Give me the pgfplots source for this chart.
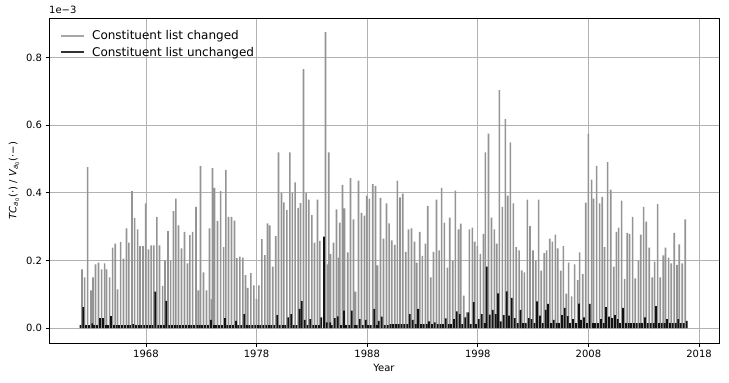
\documentclass[border=0pt]{standalone}
\usepackage{fontspec}
\setmainfont{DejaVu Sans}
\usepackage{pgfplots}
\usepackage{pgfplotstable}
\pgfplotsset{compat=1.18}
\definecolor{changed}{gray}{0.58}
\definecolor{unchanged}{gray}{0.07}
\pgfplotstableread{
x g b
1961.97 0 0.009
1962.22 0.174 0.062
1962.46 0.150 0.009
1962.73 0.476 0.009
1963.03 0.112 0.014
1963.21 0.150 0.009
1963.45 0.189 0.009
1963.72 0.194 0.030
1964.00 0.174 0.030
1964.27 0.192 0.009
1964.45 0.174 0.009
1964.72 0.150 0.036
1964.99 0.238 0.009
1965.23 0.250 0.009
1965.44 0.115 0.009
1965.71 0.255 0.009
1965.98 0.206 0.009
1966.25 0.295 0.009
1966.46 0.253 0.009
1966.74 0.405 0.012
1966.98 0.326 0.009
1967.25 0.292 0.009
1967.46 0.243 0.009
1967.73 0.243 0.009
1967.97 0.369 0.009
1968.24 0.233 0.009
1968.48 0.245 0.009
1968.72 0.245 0.108
1968.99 0.329 0.009
1969.23 0.245 0.009
1969.51 0.125 0.009
1969.72 0.200 0.081
1969.99 0.287 0.009
1970.23 0.200 0.009
1970.50 0.346 0.009
1970.71 0.383 0.009
1970.95 0.304 0.009
1971.22 0.236 0.009
1971.49 0.285 0.009
1971.76 0.192 0.009
1971.97 0.275 0.009
1972.22 0.285 0.009
1972.52 0.359 0.009
1972.73 0.112 0.009
1972.94 0.480 0.009
1973.21 0.165 0.009
1973.48 0.112 0.009
1973.75 0.295 0.025
1974.02 0.473 0.009
1974.20 0.415 0.009
1974.47 0.317 0.009
1974.75 0.405 0.009
1975.02 0.240 0.030
1975.23 0.468 0.009
1975.47 0.329 0.009
1975.74 0.329 0.009
1976.01 0.318 0.022
1976.22 0.207 0.009
1976.49 0.212 0.009
1976.76 0.209 0.042
1977.00 0.157 0.009
1977.21 0.119 0.009
1977.49 0.163 0.009
1977.76 0.127 0.009
1978.00 0.086 0.009
1978.21 0.127 0.009
1978.48 0.263 0.009
1978.75 0.216 0.009
1978.99 0.310 0.009
1979.20 0.304 0.009
1979.47 0.182 0.009
1979.74 0.272 0.039
1979.98 0.520 0.009
1980.26 0.400 0.009
1980.47 0.372 0.009
1980.74 0.349 0.032
1981.01 0.520 0.042
1981.24 0.400 0.009
1981.49 0.431 0.009
1981.76 0.356 0.057
1981.97 0.370 0.080
1982.24 0.766 0.025
1982.48 0.400 0.009
1982.72 0.380 0.027
1983.00 0.334 0.009
1983.24 0.253 0.009
1983.51 0.380 0.009
1983.72 0.258 0.032
1983.97 0 0.271
1984.23 0.875 0.017
1984.53 0.520 0.017
1984.68 0.219 0.009
1984.95 0.253 0.030
1985.22 0.351 0.035
1985.52 0.312 0.009
1985.77 0.424 0.052
1985.95 0.354 0.009
1986.25 0.224 0.009
1986.49 0.444 0.052
1986.76 0.322 0.009
1986.94 0.108 0.009
1987.21 0.436 0.027
1987.48 0.341 0.009
1987.75 0.333 0.025
1987.96 0.392 0.009
1988.20 0.383 0.009
1988.51 0.426 0.057
1988.75 0.421 0.009
1988.93 0.186 0.022
1989.20 0.385 0.034
1989.47 0.265 0.009
1989.74 0.369 0.009
1989.98 0.310 0.012
1990.22 0.260 0.012
1990.49 0.246 0.012
1990.73 0.436 0.012
1990.97 0.387 0.012
1991.22 0.398 0.012
1991.49 0.226 0.012
1991.73 0.292 0.042
1992.00 0.295 0.025
1992.27 0.256 0.012
1992.48 0.194 0.057
1992.75 0.285 0.012
1992.99 0.214 0.012
1993.26 0.250 0.012
1993.47 0.362 0.020
1993.74 0.150 0.012
1993.99 0.226 0.017
1994.26 0.380 0.012
1994.50 0.230 0.012
1994.73 0.415 0.012
1994.98 0.312 0.029
1995.25 0.179 0.012
1995.46 0.327 0.012
1995.73 0.200 0.027
1995.97 0.407 0.050
1996.25 0.292 0.042
1996.46 0.309 0.012
1996.73 0.096 0.032
1997.00 0.047 0.047
1997.24 0.292 0.012
1997.51 0.297 0.077
1997.72 0.256 0.012
1997.96 0.243 0.027
1998.23 0.220 0.042
1998.50 0.279 0.015
1998.68 0.520 0.182
1998.96 0.575 0.040
1999.23 0.327 0.054
1999.50 0.292 0.042
1999.71 0.250 0.103
1999.95 0.704 0.020
2000.22 0.359 0.039
2000.49 0.618 0.109
2000.70 0.392 0.037
2000.94 0.549 0.090
2001.21 0.369 0.030
2001.48 0.240 0.015
2001.73 0.230 0.054
2001.97 0.171 0.015
2002.21 0.165 0.015
2002.48 0.380 0.030
2002.72 0.302 0.027
2002.99 0.230 0.015
2003.23 0.200 0.079
2003.50 0.380 0.037
2003.74 0.170 0.015
2004.01 0.222 0.054
2004.22 0.230 0.072
2004.50 0.265 0.015
2004.74 0.256 0.025
2005.01 0.277 0.015
2005.22 0.236 0.015
2005.49 0.170 0.039
2005.73 0.243 0.060
2006.00 0.102 0.036
2006.21 0.194 0.015
2006.48 0.094 0.027
2006.75 0.189 0.015
2007.02 0.142 0.073
2007.20 0.224 0.025
2007.48 0.160 0.032
2007.75 0.371 0.015
2007.99 0.575 0.072
2008.29 0.439 0.015
2008.47 0.383 0.015
2008.74 0.480 0.015
2009.01 0.369 0.027
2009.25 0.388 0.015
2009.46 0.240 0.062
2009.73 0.491 0.034
2010.01 0.410 0.030
2010.28 0.182 0.039
2010.52 0.285 0.027
2010.73 0.297 0.015
2011.00 0.377 0.060
2011.27 0.145 0.015
2011.51 0.282 0.015
2011.72 0.279 0.015
2011.99 0.329 0.015
2012.23 0.147 0.015
2012.51 0.199 0.015
2012.72 0.277 0.015
2012.99 0.359 0.032
2013.23 0.315 0.015
2013.50 0.238 0.015
2013.77 0.150 0.015
2013.98 0.197 0.065
2014.25 0.367 0.015
2014.49 0.150 0.015
2014.76 0.215 0.015
2014.97 0.238 0.027
2015.25 0.209 0.015
2015.49 0.192 0.015
2015.76 0.282 0.015
2016.00 0.187 0.027
2016.21 0.248 0.015
2016.48 0.192 0.015
2016.75 0.322 0.022
}\quarters
\begin{document}
\begin{tikzpicture}
\begin{axis}[
  scale only axis, width=670pt, height=325pt,
  xmin=1959.24, xmax=2019.8, ymin=-0.0437, ymax=0.917,
  xtick={1968,1978,1988,1998,2008,2018},
  ytick={0,0.2,0.4,0.6,0.8},
  /pgf/number format/assume math mode=true,
  xticklabel style={/pgf/number format/1000 sep={}},
  yticklabel style={/pgf/number format/.cd, fixed, fixed zerofill, precision=1},
  tick align=outside, xtick pos=left, ytick pos=left,
  major tick length=3.5pt,
  tick style={black, line width=0.8pt},
  grid=major, major grid style={gray!60, line width=0.8pt},
  axis line style={black, line width=0.8pt},
  tick label style={font=\fontsize{10}{12}\selectfont},
  label style={font=\fontsize{10}{12}\selectfont},
  xlabel={Year},
  ylabel={\textit{TC}\textsubscript{\textit{a}\textsubscript{0}}(·) / \textit{V}\textsubscript{\textit{a}\textsubscript{0}}(·−)},
  legend style={draw=none, fill=none, at={(0.012,0.975)}, anchor=north west,
    font=\fontsize{12}{14}\selectfont, row sep=2pt},
  legend cell align=left,
]
\addplot[ybar, bar width=0.15, bar shift=0pt, fill=changed, draw=none,
  legend image code/.code={\draw[line width=1.8pt, gray!70] (0pt,0pt) -- (23pt,0pt); \path (29pt,0pt);}]
  table[x=x, y=g]{\quarters};
\addlegendentry{Constituent list changed}
\addplot[ybar, bar width=0.15, bar shift=0pt, fill=changed, draw=none, forget plot]
  coordinates {(1973.93,0.086) (1984.40,0.189) (1985.40,0.209)};
\addplot[ybar, bar width=0.16, bar shift=0pt, fill=unchanged, draw=none,
  legend image code/.code={\draw[line width=1.8pt, black!80] (0pt,0pt) -- (23pt,0pt); \path (29pt,0pt);}]
  table[x expr=\thisrow{x}+0.125, y=b]{\quarters};
\addlegendentry{Constituent list unchanged}
\end{axis}
\node[anchor=south west, inner sep=0pt, font=\fontsize{10}{12}\selectfont]
  at ([yshift=4pt]current axis.north west) {1e−3};
\pgfresetboundingbox
\path ([shift={(-49pt,-39pt)}]current axis.south west) rectangle ([shift={(10pt,18pt)}]current axis.north east);
\end{tikzpicture}
\end{document}
